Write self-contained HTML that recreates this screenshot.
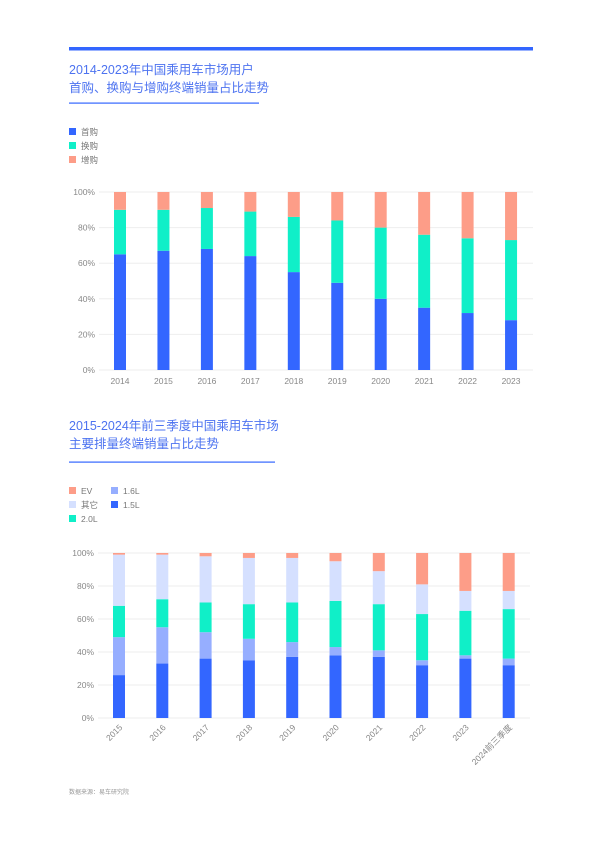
<!DOCTYPE html>
<html><head><meta charset="utf-8"><style>
body{margin:0;background:#fff;}
svg{display:block;font-family:"Liberation Sans","Noto Sans CJK SC",sans-serif;}
</style></head><body>
<svg id="s" width="600" height="842" viewBox="0 0 600 842">
<rect x="69" y="47" width="464" height="3.5" fill="#3366ff"/>
<text x="69" y="74" font-size="12.5" fill="#4d73f0">2014-2023年中国乘用车市场用户</text>
<text x="69" y="92" font-size="12.5" fill="#4d73f0">首购、换购与增购终端销量占比走势</text>
<rect x="69" y="102.5" width="190" height="1.2" fill="#3366ff"/>
<g font-size="8.5" fill="#777">
<rect x="69" y="128" width="7" height="7" fill="#3366ff"/><text x="81" y="135">首购</text>
<rect x="69" y="142" width="7" height="7" fill="#10efc8"/><text x="81" y="149">换购</text>
<rect x="69" y="156" width="7" height="7" fill="#fd9d88"/><text x="81" y="163">增购</text>
</g>
<text x="69" y="430" font-size="12.5" fill="#4d73f0">2015-2024年前三季度中国乘用车市场</text>
<text x="69" y="448" font-size="12.5" fill="#4d73f0">主要排量终端销量占比走势</text>
<rect x="69" y="461.5" width="206" height="1.2" fill="#3366ff"/>
<g font-size="8.5" fill="#777">
<rect x="69" y="487" width="7" height="7" fill="#fd9d88"/><text x="81" y="494">EV</text>
<rect x="69" y="501" width="7" height="7" fill="#d5e0ff"/><text x="81" y="508">其它</text>
<rect x="69" y="515" width="7" height="7" fill="#10efc8"/><text x="81" y="522">2.0L</text>
<rect x="111" y="487" width="7" height="7" fill="#96aeff"/><text x="123" y="494">1.6L</text>
<rect x="111" y="501" width="7" height="7" fill="#3366ff"/><text x="123" y="508">1.5L</text>
</g>
<text x="69" y="794" font-size="6" fill="#999">数据来源：易车研究院</text>
<g id="c1"></g><g id="c2"></g>
</svg>
<script>
const years1 = ['2014','2015','2016','2017','2018','2019','2020','2021','2022','2023'];
const first1 = [65,67,68,64,55,49,40,35,32,28];
const swap1 = [25,23,23,25,31,35,40,41,42,45];
const add1 = [10,10,9,11,14,16,20,24,26,27];
const yTicks = [0,20,40,60,80,100];
const years2 = ['2015','2016','2017','2018','2019','2020','2021','2022','2023','2024前三季度'];
const l15 = [26,33,36,35,37,38,37,32,36,32];
const l16 = [23,22,16,13,9,5,4,3,2,4];
const l20 = [19,17,18,21,24,28,28,28,27,30];
const other2 = [31,27,28,28,27,24,20,18,12,11];
const ev2 = [1,1,2,3,3,5,11,19,23,23];
const NS='http://www.w3.org/2000/svg';
function mk(p,tag,a){const e=document.createElementNS(NS,tag);for(const k in a)e.setAttribute(k,a[k]);p.appendChild(e);return e;}
function chart(g,cfg){
  const y=v=>cfg.y0-(cfg.y0-cfg.y100)*v/100;
  const x=i=>cfg.x0+cfg.step*i;
  yTicks.forEach(t=>{
    const l=mk(g,'line',{x1:cfg.gx0,x2:cfg.gx1,y1:y(t),y2:y(t),stroke:'#eeeeee','stroke-width':1});
    
    
    const tx=mk(g,'text',{x:cfg.gx0-4,y:y(t)+3,'font-size':8.5,fill:'#888','text-anchor':'end'});
    tx.textContent=t+'%';
    
    
  });
  cfg.cats.forEach((c,i)=>{
    let acc=0;
    cfg.series.forEach((s,si)=>{
      const v=s.vals[i];
      const r=mk(g,'rect',{x:x(i)-6,width:12,y:y(acc+v),height:y(acc)-y(acc+v),fill:s.color});
      
      
      acc+=v;
    });
    let t;
    if(cfg.rot){
      t=mk(g,'text',{x:x(i)+4,y:cfg.y0+10,'font-size':8.5,fill:'#888','text-anchor':'end',transform:`rotate(-45 ${x(i)+4} ${cfg.y0+10})`});
    }else{
      t=mk(g,'text',{x:x(i),y:cfg.y0+14,'font-size':8.5,fill:'#888','text-anchor':'middle'});
    }
    t.textContent=c;
    
    
  });
}
chart(document.getElementById('c1'),{y0:370,y100:192,x0:120,step:43.45,gx0:99,gx1:533,cats:years1,rot:false,
  series:[{name:'first',vals:first1,color:'#3366ff'},{name:'swap',vals:swap1,color:'#10efc8'},{name:'add',vals:add1,color:'#fd9d88'}]});
chart(document.getElementById('c2'),{y0:718,y100:553,x0:119,step:43.3,gx0:98,gx1:530,cats:years2,rot:true,
  series:[{name:'1-5L',vals:l15,color:'#3366ff'},{name:'1-6L',vals:l16,color:'#96aeff'},{name:'2-0L',vals:l20,color:'#10efc8'},{name:'other',vals:other2,color:'#d5e0ff'},{name:'ev',vals:ev2,color:'#fd9d88'}]});
</script>
</body></html>
